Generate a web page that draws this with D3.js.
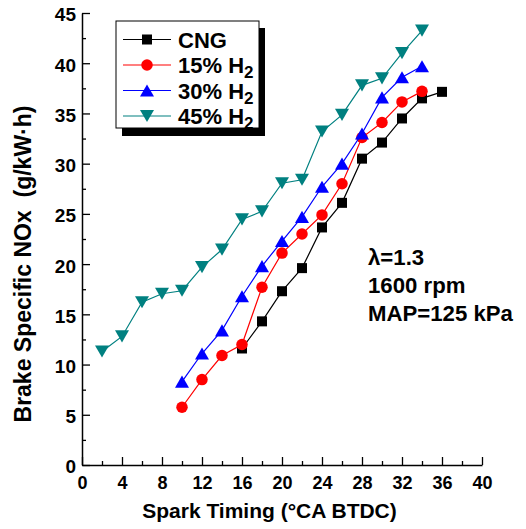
<!DOCTYPE html>
<html><head><meta charset="utf-8">
<script src="https://cdn.jsdelivr.net/npm/d3@7"></script>
<style>body{margin:0;background:#fff}svg{display:block;font-family:Arial,"Liberation Sans",sans-serif;font-weight:bold}</style>
</head><body>
<svg id="c" width="526" height="529"></svg>
<script>
const xCNG = [16,18,20,22,24,26,28,30,32,34,36];
const yCNG = [11.6,14.3,17.3,19.6,23.65,26.1,30.5,32.1,34.5,36.5,37.15];
const x15 = [10,12,14,16,18,20,22,24,26,28,30,32,34];
const y15 = [5.75,8.5,10.9,12.0,17.7,21.1,23.0,24.9,28.0,32.6,34.1,36.15,37.2];
const x30 = [10,12,14,16,18,20,22,24,26,28,30,32,34];
const y30 = [8.3,11.1,13.4,16.8,19.8,22.3,24.7,27.7,30.0,33.0,36.6,38.6,39.7];
const x45 = [2,4,6,8,10,12,14,16,18,20,22,24,26,28,30,32,34];
const y45 = [11.3,12.8,16.2,17.05,17.35,19.7,21.45,24.45,25.25,28.05,28.4,33.2,34.85,37.8,38.5,41.0,43.25];
const seriesNames = ["CNG","15% H","30% H","45% H"];
const seriesSub = ["","2","2","2"];
const xTicks = [0,4,8,12,16,20,24,28,32,36,40];
const xMinor = [2,6,10,14,18,22,26,30,34,38];
const yTicks = [0,5,10,15,20,25,30,35,40,45];
const yMinor = [2.5,7.5,12.5,17.5,22.5,27.5,32.5,37.5,42.5];
const notes = ["=1.3","1600 rpm","MAP=125 kPa"];

const svg = d3.select("#c");
const x = d3.scaleLinear().domain([0,40]).range([82,482]);
const y = d3.scaleLinear().domain([0,45]).range([465,13]);

// axes
const gx = svg.append("g").attr("transform","translate(0,465)")
  .call(d3.axisBottom(x).tickValues(xTicks).tickSizeInner(-8).tickSizeOuter(0).tickPadding(11));
svg.append("g").attr("transform","translate(0,465)")
  .call(d3.axisBottom(x).tickValues(xMinor).tickSizeInner(-4).tickSizeOuter(0).tickFormat(""))
  .select(".domain").remove();
const gy = svg.append("g").attr("transform","translate(82,0)")
  .call(d3.axisLeft(y).tickValues(yTicks).tickSizeInner(-8).tickSizeOuter(0).tickPadding(6));
svg.append("g").attr("transform","translate(82,0)")
  .call(d3.axisLeft(y).tickValues(yMinor).tickSizeInner(-4).tickSizeOuter(0).tickFormat(""))
  .select(".domain").remove();
svg.selectAll(".domain").attr("stroke","#000").attr("stroke-width",1.5);
svg.selectAll(".tick line").attr("stroke","#000").attr("stroke-width",1.3);
gx.selectAll("text").attr("font-size",18).attr("font-weight","bold").attr("font-family","Arial,'Liberation Sans',sans-serif").attr("fill","#000");
gy.selectAll("text").attr("font-size",19).attr("font-weight","bold").attr("font-family","Arial,'Liberation Sans',sans-serif").attr("fill","#000").attr("dy","0.42em");

// titles
svg.append("text").attr("x",269.5).attr("y",518).attr("text-anchor","middle")
  .attr("font-size",21).text("Spark Timing (\u00B0CA BTDC)");
svg.append("text").attr("transform","translate(31,264) rotate(-90)").attr("text-anchor","middle")
  .attr("font-size",23).attr("xml:space","preserve").text("Brake Specific NOx  (g/kW\u00B7h)");

// markers
function marker(g, type, size){
  const s=size;
  if(type==="square") return g.append("rect").attr("x",-s/2).attr("y",-s/2).attr("width",s).attr("height",s);
  if(type==="circle") return g.append("circle").attr("r",s/2);
  const h=s*0.87;
  if(type==="up") return g.append("path").attr("d",`M0,${-h/2}L${s/2},${h/2}L${-s/2},${h/2}Z`);
  return g.append("path").attr("d",`M0,${h/2}L${s/2},${-h/2}L${-s/2},${-h/2}Z`);
}
const series = [
  {xs:xCNG, ys:yCNG, color:"#000000", type:"square", size:10},
  {xs:x15, ys:y15, color:"#ff0000", type:"circle", size:11.5},
  {xs:x30, ys:y30, color:"#0000ff", type:"up", size:14},
  {xs:x45, ys:y45, color:"#008080", type:"down", size:14}
];
const line = d3.line().x(d=>x(d[0])).y(d=>y(d[1]));
series.forEach(s=>{
  const pts = s.xs.map((v,i)=>[v,s.ys[i]]);
  svg.append("path").attr("d",line(pts)).attr("fill","none").attr("stroke",s.color).attr("stroke-width",1.2);
  pts.forEach(p=>{
    const g = svg.append("g").attr("transform",`translate(${x(p[0])},${y(p[1])})`);
    marker(g,s.type,s.size).attr("fill",s.color).attr("stroke","none");
  });
});

// legend
const lg = svg.append("g");
lg.append("rect").attr("x",122).attr("y",28).attr("width",143).attr("height",108).attr("fill","#000");
lg.append("rect").attr("x",116).attr("y",21).attr("width",143).attr("height",107).attr("fill","#fff").attr("stroke","#000").attr("stroke-width",1);
const rowY=[39.5,65,90.5,116];
series.forEach((s,i)=>{
  lg.append("line").attr("x1",123).attr("x2",171).attr("y1",rowY[i]).attr("y2",rowY[i]).attr("stroke",s.color).attr("stroke-width",1.2);
  const g = lg.append("g").attr("transform",`translate(147,${rowY[i]})`);
  marker(g,s.type,s.size).attr("fill",s.color);
  const t = lg.append("text").attr("x",178).attr("y",rowY[i]+8).attr("font-size",22).text(seriesNames[i]);
  if(seriesSub[i]) t.append("tspan").attr("font-size",17).attr("dy",5).text(seriesSub[i]);
});

// notes
const nt = svg.append("text").attr("x",368).attr("y",265).attr("font-size",22.2);
nt.append("tspan").text("\u03BB");
nt.append("tspan").text(notes[0]);
svg.append("text").attr("x",368).attr("y",293).attr("font-size",22.2).text(notes[1]);
svg.append("text").attr("x",368).attr("y",321).attr("font-size",22.2).text(notes[2]);
</script>
</body></html>
